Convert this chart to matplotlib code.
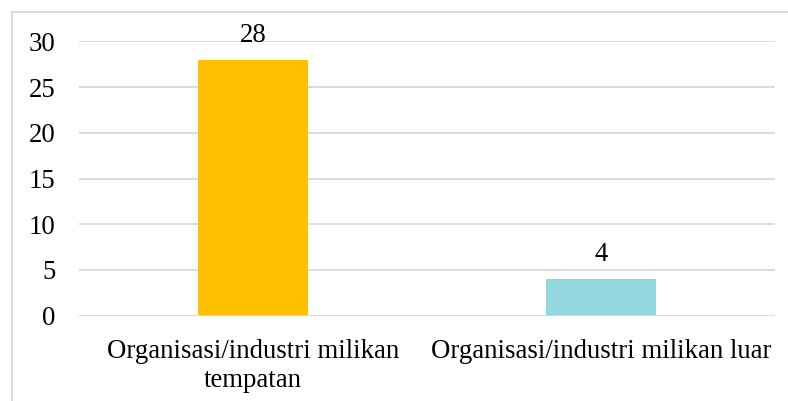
import matplotlib
matplotlib.use("Agg")
import matplotlib.pyplot as plt
from matplotlib.lines import Line2D

categories = ["Organisasi/industri milikan\ntempatan", "Organisasi/industri milikan luar"]
values = [28, 4]
colors = ["#FFC000", "#92D7DE"]
yticks = [0, 5, 10, 15, 20, 25, 30]

W, H = 788, 401
fig = plt.figure(figsize=(W / 100, H / 100), dpi=100)
plt.rcParams['font.family'] = ['Liberation Serif', 'DejaVu Serif']
FS = 19.3

left, right = 79, 775
top0, bottom0 = 41.3, 315.7
ax = fig.add_axes([left / W, 1 - bottom0 / H, (right - left) / W, (bottom0 - top0) / H])

x = list(range(len(categories)))
bars = ax.bar(x, values, width=0.316, color=colors, zorder=3)
ax.set_xlim(-0.5, len(categories) - 0.5)
ax.set_ylim(0, 30)
ax.set_yticks(yticks)
ax.set_xticks(x)
ax.set_xticklabels(categories, fontsize=FS, linespacing=1.25)
ax.tick_params(axis='y', labelsize=FS, length=0, pad=17)
ax.tick_params(axis='x', length=0, pad=16.5)
ax.grid(axis='y', color='#D9D9D9', linewidth=1.3, zorder=0)
ax.set_axisbelow(True)
for s in ax.spines.values():
    s.set_visible(False)
ax.axhline(0, color='#D9D9D9', linewidth=1.3, zorder=4)

for xi, v in zip(x, values):
    ax.annotate(str(v), (xi, v), xytext=(0, 8.5), textcoords='offset points',
                ha='center', va='bottom', fontsize=FS)

# figure border (top and left)
fig.add_artist(Line2D([12 / W, 1.0], [1 - 12 / H, 1 - 12 / H], color='#D9D9D9', linewidth=1.3,
                      transform=fig.transFigure))
fig.add_artist(Line2D([12 / W, 12 / W], [1 - 12 / H, 0.0], color='#D9D9D9', linewidth=1.3,
                      transform=fig.transFigure))

fig.savefig("out.png", dpi=100)
